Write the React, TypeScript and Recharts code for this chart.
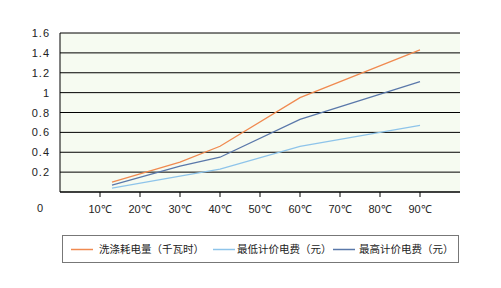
import { CartesianGrid, Legend, Line, LineChart, XAxis, YAxis } from "recharts";

// 水温 (℃) 与对应的数值
const temps = [13, 30, 40, 60, 90];
const power = [0.1, 0.3, 0.46, 0.95, 1.43];
const lowCost = [0.04, 0.16, 0.23, 0.46, 0.67];
const highCost = [0.07, 0.26, 0.35, 0.73, 1.11];

const xTicks = [10, 20, 30, 40, 50, 60, 70, 80, 90];
const yTicks = [0, 0.2, 0.4, 0.6, 0.8, 1, 1.2, 1.4, 1.6];

const SERIES = [
  { key: "power", name: "洗涤耗电量（千瓦时）", color: "#f08a50" },
  { key: "low", name: "最低计价电费（元）", color: "#8ec4ea" },
  { key: "high", name: "最高计价电费（元）", color: "#5a78aa" },
];

const data = temps.map((t, i) => ({
  t,
  power: power[i],
  low: lowCost[i],
  high: highCost[i],
}));

const LABEL_FONT = "'Liberation Sans', Arial, sans-serif";

function YTick(props: any) {
  const { x, y, payload } = props;
  const isZero = payload.value === 0;
  return (
    <text
      x={isZero ? x - 6 : x}
      y={isZero ? y + 16 : y}
      textAnchor="end"
      dominantBaseline="central"
      fontSize={11}
      letterSpacing={1}
      fontFamily={LABEL_FONT}
      fill="#222"
    >
      {String(payload.value)}
    </text>
  );
}

function LegendBox() {
  const offsets = [8, 150, 270];
  const textOffsets = [36, 174, 296];
  return (
    <div
      style={{
        position: "relative",
        width: 397,
        height: 28,
        boxSizing: "border-box",
        border: "1px solid #777",
        background: "#fff",
        fontFamily: "'Noto Sans CJK SC', sans-serif",
        fontSize: 10.5,
        color: "#222",
      }}
    >
      {SERIES.map((s, i) => (
        <div key={s.key}>
          <svg
            width={22}
            height={3}
            style={{ position: "absolute", left: offsets[i], top: 12 }}
          >
            <line x1={0} y1={1.5} x2={22} y2={1.5} stroke={s.color} strokeWidth={1.5} />
          </svg>
          <div
            style={{
              position: "absolute",
              left: textOffsets[i],
              top: 5,
              lineHeight: "16px",
              whiteSpace: "nowrap",
            }}
          >
            {s.name}
          </div>
        </div>
      ))}
    </div>
  );
}

export default function App() {
  return (
    <div style={{ position: "absolute", left: 0, top: 0, background: "#fff" }}>
      <LineChart
        width={501}
        height={288}
        data={data}
        margin={{ top: 33, right: 41, bottom: 0, left: 0 }}
      >
        <CartesianGrid
          horizontal
          vertical={false}
          stroke="#000"
          fill="#f6fbf1"
          horizontalValues={yTicks}
        />
        <XAxis
          dataKey="t"
          type="number"
          domain={[0, 100]}
          ticks={xTicks}
          interval={0}
          height={96}
          stroke="#000"
          tickSize={5}
          tickMargin={8}
          tickFormatter={(v) => `${v}℃`}
          tick={{ fontSize: 11, fill: "#222", fontFamily: LABEL_FONT }}
        />
        <YAxis
          type="number"
          domain={[0, 1.6]}
          ticks={yTicks}
          interval={0}
          width={60}
          stroke="#000"
          tickLine={false}
          tickSize={0}
          tickMargin={10}
          tick={<YTick />}
        />
        <Legend
          layout="horizontal"
          align="center"
          verticalAlign="middle"
          wrapperStyle={{ position: "absolute", left: 62, top: 235, width: 397, height: 28 }}
          content={() => <LegendBox />}
        />
        {SERIES.map((s) => (
          <Line
            key={s.key}
            dataKey={s.key}
            name={s.name}
            stroke={s.color}
            strokeWidth={1.3}
            dot={false}
            isAnimationActive={false}
          />
        ))}
      </LineChart>
    </div>
  );
}
